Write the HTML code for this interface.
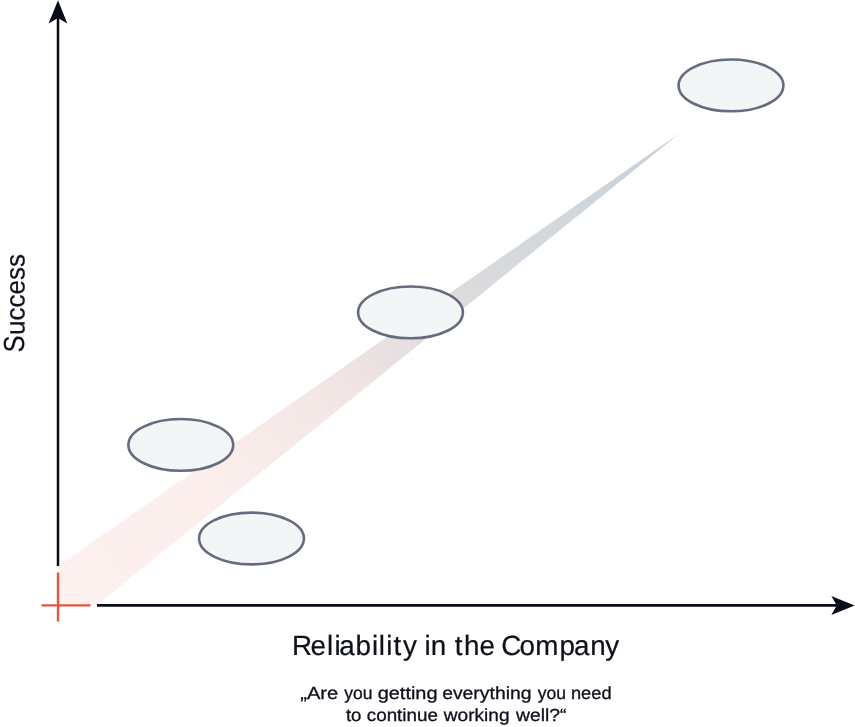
<!DOCTYPE html>
<html lang="en">
<head>
<meta charset="utf-8">
<title>Reliability in the Company</title>
<style>
  html, body { margin: 0; padding: 0; background: #ffffff; }
  body { width: 855px; height: 727px; overflow: hidden; position: relative; font-family: "Liberation Sans", sans-serif; }
  svg { position: absolute; left: 0; top: 0; display: block; }
  text { font-family: "Liberation Sans", sans-serif; fill: #0e101b; text-rendering: geometricPrecision; }
  #labels { will-change: transform; }
  #l1, #l2 { stroke: #0e101b; stroke-width: 0.3px; }
  #xl, #yl { stroke: #0e101b; stroke-width: 0.22px; }
</style>
</head>
<body>
<svg id="chart" width="855" height="727" viewBox="0 0 855 727">
  <defs>
    <linearGradient id="band" gradientUnits="userSpaceOnUse" x1="58" y1="600" x2="680" y2="133">
      <stop offset="0" stop-color="#fdf1f0"/>
      <stop offset="0.25" stop-color="#fbeeed"/>
      <stop offset="0.45" stop-color="#f2e6e5"/>
      <stop offset="0.58" stop-color="#e3dcde"/>
      <stop offset="0.68" stop-color="#dadadd"/>
      <stop offset="0.82" stop-color="#d0d7dd"/>
      <stop offset="1" stop-color="#c4cfd9"/>
    </linearGradient>
  </defs>
  <!-- trend band -->
  <polygon points="58,566 680,133 97,605 58,605" fill="url(#band)"/>
  <!-- axes -->
  <line x1="58" y1="10" x2="58" y2="566" stroke="#080b19" stroke-width="2.5"/>
  <polygon points="58,0.3 67.3,23.4 58,18 48.6,23.4" fill="#080b19"/>
  <line x1="97" y1="605.4" x2="845" y2="605.4" stroke="#080b19" stroke-width="2.6"/>
  <polygon points="854.6,605.4 831.3,596 836.8,605.4 831.3,615" fill="#080b19"/>
  <!-- origin cross -->
  <line x1="58" y1="572.5" x2="58" y2="621.5" stroke="#e6563f" stroke-width="2.4"/>
  <line x1="41.5" y1="605.4" x2="90.5" y2="605.4" stroke="#e6563f" stroke-width="2.4"/>
  <!-- ellipses -->
  <g fill="#f4f5f7" stroke="#646c7e" stroke-width="2.6">
    <ellipse cx="731" cy="85.4" rx="52.4" ry="25.9"/>
    <ellipse cx="410.5" cy="312.4" rx="52.4" ry="25.9"/>
    <ellipse cx="180.8" cy="444.9" rx="52.4" ry="25.9"/>
    <ellipse cx="251.5" cy="538.5" rx="52.4" ry="25.9"/>
  </g>
</svg>
<svg id="labels" width="855" height="727" viewBox="0 0 855 727">
  <text id="xl" y="654.8" font-size="27.8"><tspan x="291.96 310.60 326.88 334.40 339.28 355.51 372.00 378.68 386.20 393.46 402.89">Reliability</tspan> <tspan x="424.40 430.83">in</tspan> <tspan x="454.66 464.02 479.50">the</tspan> <tspan x="501.32 519.52 535.37 559.50 574.08 590.13 605.19">Company</tspan></text>
  <text id="l1" y="699.1" font-size="17.5"><tspan x="300.20" textLength="38.00" lengthAdjust="spacingAndGlyphs">„Are</tspan> <tspan x="344.29" textLength="28.24" lengthAdjust="spacingAndGlyphs">you</tspan> <tspan x="377.65" textLength="59.94" lengthAdjust="spacingAndGlyphs">getting</tspan> <tspan x="442.15" textLength="89.38" lengthAdjust="spacingAndGlyphs">everything</tspan> <tspan x="537.69" textLength="28.24" lengthAdjust="spacingAndGlyphs">you</tspan> <tspan x="570.96" textLength="40.61" lengthAdjust="spacingAndGlyphs">need</tspan></text>
  <text id="l2" y="720.8" font-size="17.5"><tspan x="345.95" textLength="15.53" lengthAdjust="spacingAndGlyphs">to</tspan> <tspan x="366.78" textLength="71.16" lengthAdjust="spacingAndGlyphs">continue</tspan> <tspan x="443.83" textLength="65.67" lengthAdjust="spacingAndGlyphs">working</tspan> <tspan x="516.02" textLength="50.34" lengthAdjust="spacingAndGlyphs">well?“</tspan></text>
  <text id="yl" transform="translate(24.45,352.49) rotate(-89.97)"><tspan x="0" font-size="29.0" textLength="17.15" lengthAdjust="spacingAndGlyphs">S</tspan><tspan x="17.51" font-size="26.8" textLength="81.09" lengthAdjust="spacingAndGlyphs">uccess</tspan></text>
</svg>
</body>
</html>
